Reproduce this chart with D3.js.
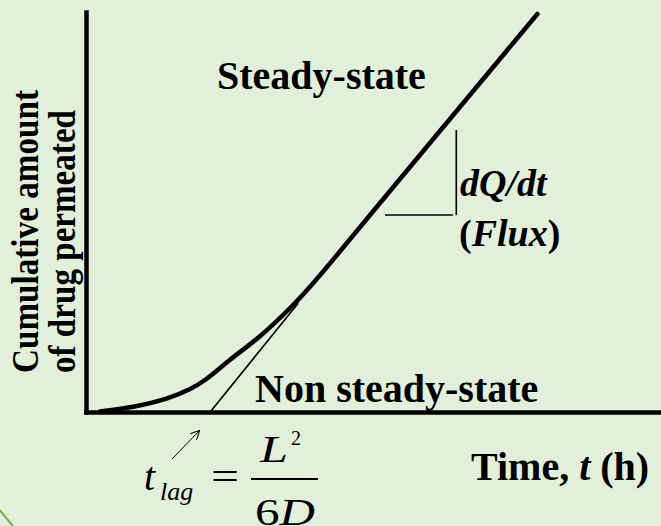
<!DOCTYPE html>
<html>
<head>
<meta charset="utf-8">
<script src="https://cdn.jsdelivr.net/npm/d3@7"></script>
<style>
  body { margin: 0; background: #e2efda; }
  svg { display: block; font-family: "Liberation Serif", "Times New Roman", serif; }
  .bold { font-weight: bold; }
</style>
</head>
<body>
<svg id="chart"></svg>
<script>
var width = 661;
var height = 526;

// cumulative amount permeated vs time (arbitrary units)
var timePts   = [0.24, 0.82, 1.41, 1.81, 2.07, 2.50, 3.03, 3.55, 3.95, 5.11, 7.85];
var amountPts = [0.01, 0.13, 0.34, 0.575, 0.80, 1.30, 1.90, 2.60, 3.22, 5.22, 9.95];

// extrapolated steady-state tangent, hits the time axis at t lag
var tangentT = [2.16, 3.69];
var tangentQ = [0.0, 2.72];

// slope triangle (dQ/dt)
var triT = [5.20, 6.38, 6.44];
var triQ = [4.925, 7.05];

var xDomain = [0, 10];
var yDomain = [0, 10];

var x = d3.scaleLinear().domain(xDomain).range([86, 661]);
var y = d3.scaleLinear().domain(yDomain).range([412, 12]);

var svg = d3.select("#chart")
    .attr("width", width)
    .attr("height", height);

svg.append("rect")
    .attr("width", width)
    .attr("height", height)
    .attr("fill", "#e2efda");

// bit of the green circle border in the corner
svg.append("path")
    .attr("d", "M0,510 Q6,518 13,526")
    .attr("fill", "none")
    .attr("stroke", "#70ad47")
    .attr("stroke-width", 2);

// axes, no ticks
var xAxis = d3.axisBottom(x).tickValues([]).tickSizeOuter(0);
var yAxis = d3.axisLeft(y).tickValues([]).tickSizeOuter(0);

svg.append("g")
    .attr("transform", "translate(0," + y(0) + ")")
    .call(xAxis)
    .select(".domain")
    .attr("stroke", "#000")
    .attr("stroke-width", 4.5)
    .attr("stroke-linecap", "square");

svg.append("g")
    .attr("transform", "translate(" + x(0) + ",0)")
    .call(yAxis)
    .select(".domain")
    .attr("stroke", "#000")
    .attr("stroke-width", 4.5)
    .attr("stroke-linecap", "square");

// tangent line
svg.append("line")
    .attr("x1", x(tangentT[0])).attr("y1", y(tangentQ[0]))
    .attr("x2", x(tangentT[1])).attr("y2", y(tangentQ[1]))
    .attr("stroke", "#000")
    .attr("stroke-width", 1.6);

// main curve
var data = timePts.map(function(t, i) { return {t: t, q: amountPts[i]}; });
var line = d3.line()
    .x(function(d) { return x(d.t); })
    .y(function(d) { return y(d.q); })
    .curve(d3.curveCatmullRom);

svg.append("path")
    .datum(data)
    .attr("d", line)
    .attr("fill", "none")
    .attr("stroke", "#000")
    .attr("stroke-width", 4.5)
    .attr("stroke-linecap", "round");

// slope triangle
svg.append("line")
    .attr("x1", x(triT[0])).attr("y1", y(triQ[0]))
    .attr("x2", x(triT[1])).attr("y2", y(triQ[0]))
    .attr("stroke", "#000").attr("stroke-width", 1.6);
svg.append("line")
    .attr("x1", x(triT[2])).attr("y1", y(triQ[0]))
    .attr("x2", x(triT[2])).attr("y2", y(triQ[1]))
    .attr("stroke", "#000").attr("stroke-width", 1.6);

// labels
svg.append("text").attr("class", "bold")
    .attr("x", 217).attr("y", 88.5)
    .attr("font-size", 40)
    .text("Steady-state");

svg.append("text").attr("class", "bold")
    .attr("x", 255).attr("y", 401.5)
    .attr("font-size", 40)
    .text("Non steady-state");

svg.append("text").attr("class", "bold")
    .attr("x", 460).attr("y", 196)
    .attr("font-size", 38)
    .attr("font-style", "italic")
    .text("dQ/dt");

var flux = svg.append("text").attr("class", "bold")
    .attr("x", 459).attr("y", 246)
    .attr("font-size", 38);
flux.append("tspan").text("(");
flux.append("tspan").attr("font-style", "italic").text("Flux");
flux.append("tspan").text(")");

var tl = svg.append("text").attr("class", "bold")
    .attr("x", 471).attr("y", 480)
    .attr("font-size", 40);
tl.append("tspan").text("Time, ");
tl.append("tspan").attr("font-style", "italic").text("t");
tl.append("tspan").text(" (h)");

// y axis title, two lines
var ylab = ["Cumulative amount", "of drug permeated"];
var ylabX = [38, 75];
var ylabLen = [283, 263];
ylab.forEach(function(s, i) {
    svg.append("text").attr("class", "bold")
        .attr("transform", "translate(" + ylabX[i] + ",373) rotate(-90)")
        .attr("font-size", 37)
        .attr("textLength", ylabLen[i])
        .attr("lengthAdjust", "spacingAndGlyphs")
        .text(s);
});

// t lag formula
svg.append("text")
    .attr("x", 144).attr("y", 490)
    .attr("font-size", 40).attr("font-style", "italic")
    .text("t");
svg.append("text")
    .attr("x", 160).attr("y", 500)
    .attr("font-size", 26).attr("font-style", "italic")
    .text("lag");
svg.append("text")
    .attr("x", 211).attr("y", 490)
    .attr("font-size", 40)
    .attr("textLength", 28)
    .attr("lengthAdjust", "spacingAndGlyphs")
    .text("=");
svg.append("line")
    .attr("x1", 251).attr("y1", 479)
    .attr("x2", 318).attr("y2", 479)
    .attr("stroke", "#000").attr("stroke-width", 1.8);
svg.append("text")
    .attr("x", 260).attr("y", 462)
    .attr("font-size", 38).attr("font-style", "italic")
    .attr("textLength", 28)
    .attr("lengthAdjust", "spacingAndGlyphs")
    .text("L");
svg.append("text")
    .attr("x", 291).attr("y", 445)
    .attr("font-size", 20)
    .text("2");
var den = svg.append("text")
    .attr("x", 255).attr("y", 525)
    .attr("font-size", 38)
    .attr("textLength", 60)
    .attr("lengthAdjust", "spacingAndGlyphs");
den.append("tspan").text("6");
den.append("tspan").attr("font-style", "italic").text("D");

// little arrow pointing at t lag
svg.append("defs").append("marker")
    .attr("id", "head")
    .attr("viewBox", "0 0 10 10")
    .attr("refX", 9).attr("refY", 5)
    .attr("markerWidth", 9).attr("markerHeight", 9)
    .attr("markerUnits", "userSpaceOnUse")
    .attr("orient", "auto")
    .append("path")
    .attr("d", "M0,0 L10,5 L0,10")
    .attr("fill", "none")
    .attr("stroke", "#000")
    .attr("stroke-width", 1.2);

svg.append("line")
    .attr("x1", 172).attr("y1", 459)
    .attr("x2", 199).attr("y2", 431)
    .attr("stroke", "#000").attr("stroke-width", 1)
    .attr("marker-end", "url(#head)");
</script>
</body>
</html>
